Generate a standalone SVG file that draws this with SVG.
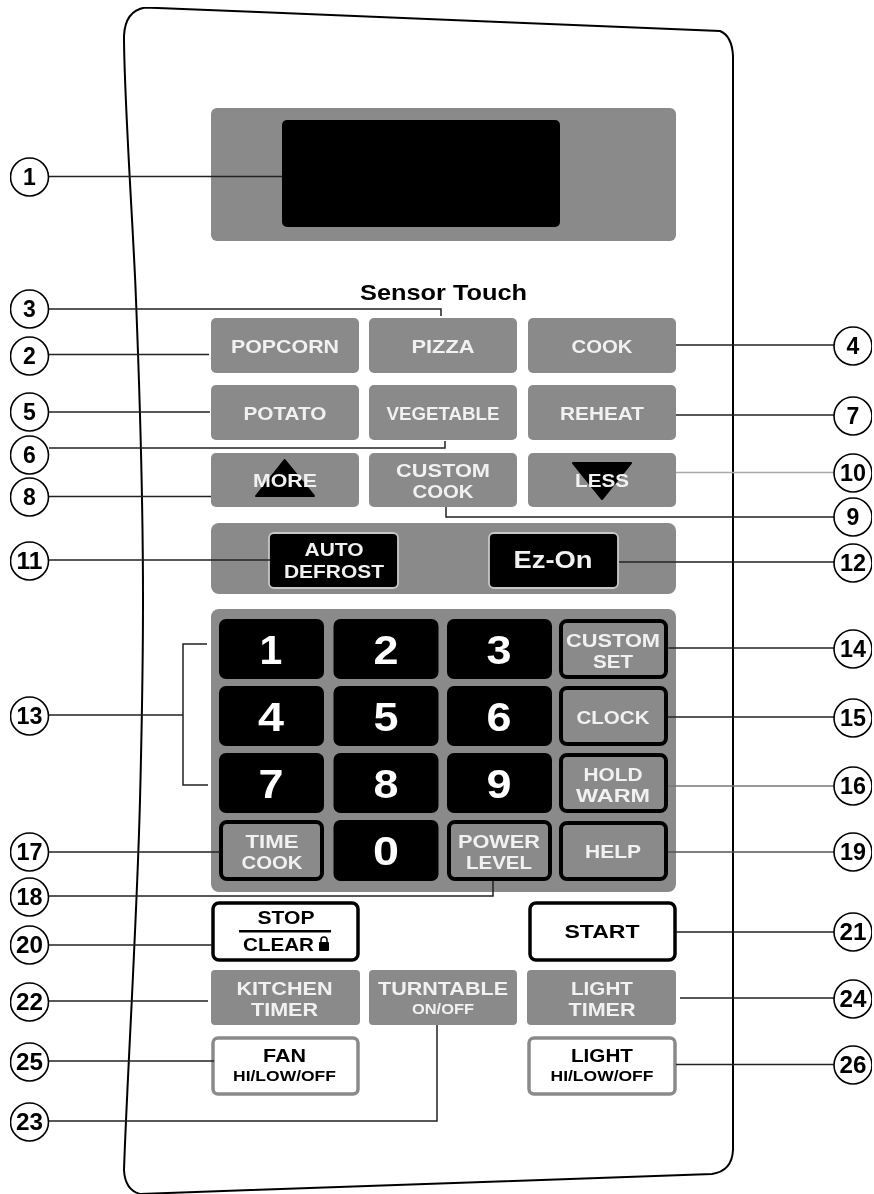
<svg xmlns="http://www.w3.org/2000/svg" width="874" height="1194" viewBox="0 0 874 1194">
<defs><filter id="soft" x="0" y="0" width="100%" height="100%"><feGaussianBlur stdDeviation="0.45"/></filter></defs>
<style>
text{font-family:"Liberation Sans",Arial,sans-serif;font-weight:700;text-anchor:middle}
.g{fill:#8a8a8a}
.b{fill:#000}
.lt{fill:#f1f1f1;font-size:19px}
.dk{fill:#000;font-size:19px}
.sm{fill:#000;font-size:15px}
.dg{fill:#fff;font-size:41px}
.key{fill:#8a8a8a;stroke:#000;stroke-width:4}
.wk{fill:#fff;stroke:#000;stroke-width:3.5}
.wg{fill:#fff;stroke:#8a8a8a;stroke-width:3.5}
.co circle{fill:#fff;stroke:#000;stroke-width:1.6}
.co text{fill:#000;font-size:23px}
#connectors path{fill:none;stroke:#222;stroke-width:1.5}
#outline{fill:#fff;stroke:#000;stroke-width:2}
</style>
<rect width="874" height="1194" fill="#fff"/>
<g filter="url(#soft)">
<path id="outline" d="M145 7.5L720 31Q732 36 733 56L733 1150Q732 1171 712 1174L140 1194Q125 1190 124 1170C127 1080 137 920 140 800C142 720 143 660 143 600C143 520 140 400 136 300C134 240 124 100 124 36Q125 11 145 7.5Z"/>

<g id="display"><rect class="g" x="211" y="108" width="465" height="133" rx="6"/><rect class="b" x="282" y="120" width="278" height="107" rx="5"/></g>
<g id="sensor-touch"><text x="443.500" y="300" font-size="22" fill="#000" textLength="167" lengthAdjust="spacingAndGlyphs">Sensor Touch</text></g>

<g id="popcorn"><rect class="g" x="211" y="318" width="148" height="55" rx="5"/><text class="lt" x="285" y="353" textLength="108" lengthAdjust="spacingAndGlyphs">POPCORN</text></g>
<g id="pizza"><rect class="g" x="369" y="318" width="148" height="55" rx="5"/><text class="lt" x="443" y="353" textLength="63" lengthAdjust="spacingAndGlyphs">PIZZA</text></g>
<g id="cook"><rect class="g" x="528" y="318" width="148" height="55" rx="5"/><text class="lt" x="602" y="353" textLength="61" lengthAdjust="spacingAndGlyphs">COOK</text></g>
<g id="potato"><rect class="g" x="211" y="385" width="148" height="55" rx="5"/><text class="lt" x="285" y="420" textLength="83" lengthAdjust="spacingAndGlyphs">POTATO</text></g>
<g id="vegetable"><rect class="g" x="369" y="385" width="148" height="55" rx="5"/><text class="lt" x="443" y="420" textLength="113" lengthAdjust="spacingAndGlyphs">VEGETABLE</text></g>
<g id="reheat"><rect class="g" x="528" y="385" width="148" height="55" rx="5"/><text class="lt" x="602" y="420" textLength="84" lengthAdjust="spacingAndGlyphs">REHEAT</text></g>
<g id="more"><rect class="g" x="211" y="453" width="148" height="54" rx="5"/><path d="M284.500 460L314 496H256Z" fill="#000" stroke="#000" stroke-width="2" stroke-linejoin="round"/><text class="lt" x="285" y="487" textLength="64" lengthAdjust="spacingAndGlyphs">MORE</text></g>
<g id="custom-cook"><rect class="g" x="369" y="453" width="148" height="54" rx="5"/><text class="lt" x="443" y="477" textLength="94" lengthAdjust="spacingAndGlyphs">CUSTOM</text><text class="lt" x="443" y="498" textLength="61" lengthAdjust="spacingAndGlyphs">COOK</text></g>
<g id="less"><rect class="g" x="528" y="453" width="148" height="54" rx="5"/><path d="M573 463H631L602 499Z" fill="#000" stroke="#000" stroke-width="2" stroke-linejoin="round"/><text class="lt" x="602" y="487" textLength="54" lengthAdjust="spacingAndGlyphs">LESS</text></g>

<g id="auto-panel"><rect class="g" x="211" y="523" width="465" height="71" rx="8"/></g>
<g id="auto-defrost"><rect x="269" y="533" width="129" height="55" rx="5" fill="#000" stroke="#c8c8c8" stroke-width="1.800"/><text class="lt" x="334" y="556" textLength="59" lengthAdjust="spacingAndGlyphs">AUTO</text><text class="lt" x="334" y="578" textLength="100" lengthAdjust="spacingAndGlyphs">DEFROST</text></g>
<g id="ez-on"><rect x="489" y="533" width="129" height="55" rx="5" fill="#000" stroke="#c8c8c8" stroke-width="1.800"/><text x="553" y="568" font-size="23" fill="#f1f1f1" textLength="79" lengthAdjust="spacingAndGlyphs">Ez-On</text></g>

<g id="keypad-panel"><rect class="g" x="211" y="609" width="465" height="283" rx="8"/></g>
<g id="key-1"><rect class="b" x="219" y="619" width="105" height="60" rx="7"/><text class="dg" x="271" y="664">1</text></g>
<g id="key-2"><rect class="b" x="333.500" y="619" width="105" height="60" rx="7"/><text class="dg" x="386" y="664" textLength="25" lengthAdjust="spacingAndGlyphs">2</text></g>
<g id="key-3"><rect class="b" x="447" y="619" width="105" height="60" rx="7"/><text class="dg" x="499" y="664" textLength="25" lengthAdjust="spacingAndGlyphs">3</text></g>
<g id="key-4"><rect class="b" x="219" y="686" width="105" height="60" rx="7"/><text class="dg" x="271" y="731" textLength="26" lengthAdjust="spacingAndGlyphs">4</text></g>
<g id="key-5"><rect class="b" x="333.500" y="686" width="105" height="60" rx="7"/><text class="dg" x="386" y="731" textLength="25" lengthAdjust="spacingAndGlyphs">5</text></g>
<g id="key-6"><rect class="b" x="447" y="686" width="105" height="60" rx="7"/><text class="dg" x="499" y="731" textLength="25" lengthAdjust="spacingAndGlyphs">6</text></g>
<g id="key-7"><rect class="b" x="219" y="753" width="105" height="60" rx="7"/><text class="dg" x="271" y="798" textLength="25" lengthAdjust="spacingAndGlyphs">7</text></g>
<g id="key-8"><rect class="b" x="333.500" y="753" width="105" height="60" rx="7"/><text class="dg" x="386" y="798" textLength="25" lengthAdjust="spacingAndGlyphs">8</text></g>
<g id="key-9"><rect class="b" x="447" y="753" width="105" height="60" rx="7"/><text class="dg" x="499" y="798" textLength="25" lengthAdjust="spacingAndGlyphs">9</text></g>
<g id="key-0"><rect class="b" x="333.500" y="820" width="105" height="61" rx="7"/><text class="dg" x="386" y="865" textLength="26" lengthAdjust="spacingAndGlyphs">0</text></g>
<g id="custom-set"><rect class="key" x="561" y="621" width="105" height="56" rx="6"/><text class="lt" x="613" y="647" textLength="94" lengthAdjust="spacingAndGlyphs">CUSTOM</text><text class="lt" x="613" y="668" textLength="40" lengthAdjust="spacingAndGlyphs">SET</text></g>
<g id="clock"><rect class="key" x="561" y="688" width="105" height="56" rx="6"/><text class="lt" x="613" y="724" textLength="73" lengthAdjust="spacingAndGlyphs">CLOCK</text></g>
<g id="hold-warm"><rect class="key" x="561" y="755" width="105" height="56" rx="6"/><text class="lt" x="613" y="781" textLength="59" lengthAdjust="spacingAndGlyphs">HOLD</text><text class="lt" x="613" y="802" textLength="74" lengthAdjust="spacingAndGlyphs">WARM</text></g>
<g id="help"><rect class="key" x="561" y="823" width="105" height="56" rx="6"/><text class="lt" x="613" y="858" textLength="56" lengthAdjust="spacingAndGlyphs">HELP</text></g>
<g id="time-cook"><rect class="key" x="221" y="822" width="101" height="57" rx="6"/><text class="lt" x="272" y="848" textLength="53" lengthAdjust="spacingAndGlyphs">TIME</text><text class="lt" x="272" y="869" textLength="61" lengthAdjust="spacingAndGlyphs">COOK</text></g>
<g id="power-level"><rect class="key" x="449" y="822" width="101" height="57" rx="6"/><text class="lt" x="499" y="848" textLength="82" lengthAdjust="spacingAndGlyphs">POWER</text><text class="lt" x="499" y="869" textLength="66" lengthAdjust="spacingAndGlyphs">LEVEL</text></g>

<g id="stop-clear"><rect class="wk" x="213" y="903" width="145" height="57" rx="6"/><text class="dk" x="286" y="924" textLength="57" lengthAdjust="spacingAndGlyphs">STOP</text><rect class="b" x="239" y="930" width="92" height="2.500"/><text class="dk" x="278.500" y="951" textLength="71" lengthAdjust="spacingAndGlyphs">CLEAR</text><rect class="b" x="319" y="942" width="10" height="9" rx="1"/><path d="M321 942V940A3 3 0 0 1 327 940V942" fill="none" stroke="#000" stroke-width="1.500"/></g>
<g id="start"><rect class="wk" x="530" y="903" width="145" height="57" rx="6"/><text class="dk" x="602" y="938" textLength="75" lengthAdjust="spacingAndGlyphs">START</text></g>
<g id="kitchen-timer"><rect class="g" x="211" y="970" width="149" height="55" rx="4"/><text class="lt" x="284.500" y="995" textLength="96" lengthAdjust="spacingAndGlyphs">KITCHEN</text><text class="lt" x="284.500" y="1016" textLength="67" lengthAdjust="spacingAndGlyphs">TIMER</text></g>
<g id="turntable"><rect class="g" x="369" y="970" width="148" height="55" rx="4"/><text class="lt" x="443" y="995" textLength="130" lengthAdjust="spacingAndGlyphs">TURNTABLE</text><text x="443" y="1014" font-size="14" fill="#f1f1f1" textLength="62" lengthAdjust="spacingAndGlyphs">ON/OFF</text></g>
<g id="light-timer"><rect class="g" x="527" y="970" width="149" height="55" rx="4"/><text class="lt" x="602" y="995" textLength="62" lengthAdjust="spacingAndGlyphs">LIGHT</text><text class="lt" x="602" y="1016" textLength="67" lengthAdjust="spacingAndGlyphs">TIMER</text></g>
<g id="fan"><rect class="wg" x="213" y="1038" width="145" height="56" rx="5"/><text class="dk" x="284.500" y="1062" textLength="43" lengthAdjust="spacingAndGlyphs">FAN</text><text class="sm" x="284.500" y="1081" textLength="103" lengthAdjust="spacingAndGlyphs">HI/LOW/OFF</text></g>
<g id="light"><rect class="wg" x="529" y="1038" width="146" height="56" rx="5"/><text class="dk" x="602" y="1062" textLength="62" lengthAdjust="spacingAndGlyphs">LIGHT</text><text class="sm" x="602" y="1081" textLength="103" lengthAdjust="spacingAndGlyphs">HI/LOW/OFF</text></g>

<g id="connectors">
<path d="M49 176.500H282"/>
<path d="M49 309H441V316"/>
<path d="M49 354.500H209"/>
<path d="M49 412H210"/>
<path d="M49 448H445V441"/>
<path d="M49 496.500H211"/>
<path d="M49 560H270"/>
<path d="M676 345H834"/>
<path d="M676 415H834"/>
<path d="M676 472.500H834" style="stroke:#aaa"/>
<path d="M446 507V517H834"/>
<path d="M619 562H834"/>
<path d="M49 715H183M207 644H183V785H208"/>
<path d="M49 852H220"/>
<path d="M49 896H493V881"/>
<path d="M49 945H212"/>
<path d="M49 1001H208"/>
<path d="M49 1061H214"/>
<path d="M49 1121H437V1025"/>
<path d="M668 648H834"/>
<path d="M668 717H834"/>
<path d="M668 786H834" style="stroke:#777"/>
<path d="M668 852H834" style="stroke:#555"/>
<path d="M676 932H834"/>
<path d="M680 998H834"/>
<path d="M676 1064.500H834"/>
</g>

<g id="callouts" class="co">
<g id="c1"><circle cx="29.500" cy="177" r="19"/><text x="29.500" y="185">1</text></g>
<g id="c2"><circle cx="29.500" cy="356" r="19"/><text x="29.500" y="364">2</text></g>
<g id="c3"><circle cx="29.500" cy="309" r="19"/><text x="29.500" y="317">3</text></g>
<g id="c4"><circle cx="853" cy="346" r="19"/><text x="853" y="354">4</text></g>
<g id="c5"><circle cx="29.500" cy="412" r="19"/><text x="29.500" y="420">5</text></g>
<g id="c6"><circle cx="29.500" cy="455" r="19"/><text x="29.500" y="463">6</text></g>
<g id="c7"><circle cx="853" cy="416" r="19"/><text x="853" y="424">7</text></g>
<g id="c8"><circle cx="29.500" cy="497" r="19"/><text x="29.500" y="505">8</text></g>
<g id="c9"><circle cx="853" cy="517" r="19"/><text x="853" y="525">9</text></g>
<g id="c10"><circle cx="853" cy="473" r="19"/><text x="853" y="481" textLength="26" lengthAdjust="spacingAndGlyphs">10</text></g>
<g id="c11"><circle cx="29.500" cy="561" r="19"/><text x="29.500" y="569" textLength="26" lengthAdjust="spacingAndGlyphs">11</text></g>
<g id="c12"><circle cx="853" cy="563" r="19"/><text x="853" y="571" textLength="26" lengthAdjust="spacingAndGlyphs">12</text></g>
<g id="c13"><circle cx="29.500" cy="716" r="19"/><text x="29.500" y="724" textLength="26" lengthAdjust="spacingAndGlyphs">13</text></g>
<g id="c14"><circle cx="853" cy="649" r="19"/><text x="853" y="657" textLength="26" lengthAdjust="spacingAndGlyphs">14</text></g>
<g id="c15"><circle cx="853" cy="718" r="19"/><text x="853" y="726" textLength="26" lengthAdjust="spacingAndGlyphs">15</text></g>
<g id="c16"><circle cx="853" cy="786" r="19"/><text x="853" y="794" textLength="26" lengthAdjust="spacingAndGlyphs">16</text></g>
<g id="c17"><circle cx="29.500" cy="852" r="19"/><text x="29.500" y="860" textLength="26" lengthAdjust="spacingAndGlyphs">17</text></g>
<g id="c18"><circle cx="29.500" cy="897" r="19"/><text x="29.500" y="905" textLength="26" lengthAdjust="spacingAndGlyphs">18</text></g>
<g id="c19"><circle cx="853" cy="852" r="19"/><text x="853" y="860" textLength="26" lengthAdjust="spacingAndGlyphs">19</text></g>
<g id="c20"><circle cx="29.500" cy="945" r="19"/><text x="29.500" y="953" textLength="27" lengthAdjust="spacingAndGlyphs">20</text></g>
<g id="c21"><circle cx="853" cy="932" r="19"/><text x="853" y="940" textLength="27" lengthAdjust="spacingAndGlyphs">21</text></g>
<g id="c22"><circle cx="29.500" cy="1002" r="19"/><text x="29.500" y="1010" textLength="27" lengthAdjust="spacingAndGlyphs">22</text></g>
<g id="c23"><circle cx="29.500" cy="1122" r="19"/><text x="29.500" y="1130" textLength="27" lengthAdjust="spacingAndGlyphs">23</text></g>
<g id="c24"><circle cx="853" cy="999" r="19"/><text x="853" y="1007" textLength="27" lengthAdjust="spacingAndGlyphs">24</text></g>
<g id="c25"><circle cx="29.500" cy="1062" r="19"/><text x="29.500" y="1070" textLength="27" lengthAdjust="spacingAndGlyphs">25</text></g>
<g id="c26"><circle cx="853" cy="1065" r="19"/><text x="853" y="1073" textLength="27" lengthAdjust="spacingAndGlyphs">26</text></g>
</g>
</g>
</svg>
